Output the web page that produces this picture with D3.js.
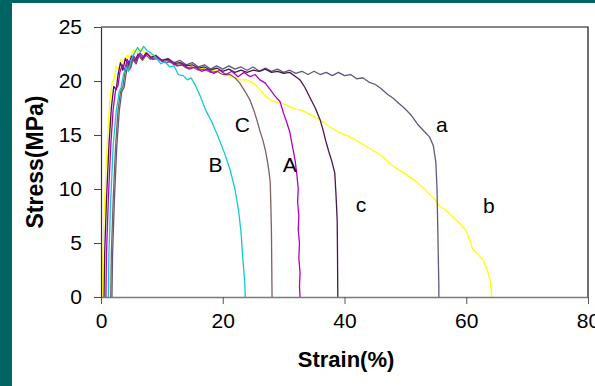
<!DOCTYPE html>
<html>
<head>
<meta charset="utf-8">
<script src="https://cdn.jsdelivr.net/npm/d3@7"></script>
<style>
  html, body { margin: 0; padding: 0; background: #006462; }
  svg { display: block; }
  text { font-family: Arial, "Liberation Sans", sans-serif; fill: #000; }
</style>
</head>
<body>
<div id="chart"></div>
<script>
(function () {
  'use strict';

  // stress-strain curves, [strain %, stress MPa]
  var curveYellow_b = [[0.2,0],[0.3,4],[0.6,9],[1.0,14],[1.4,17.8],[1.8,19.8],[2.2,20.3],[2.5,21.4],[2.9,21.0],[3.3,22.0],[3.8,21.6],[4.3,22.4],[4.8,22.1],[5.3,22.9],[5.9,22.6],[6.5,23.0],[7.2,22.6],[8,22.5],[9,22.2],[10,22.0],[11,21.9],[12,21.7],[13,21.6],[14,21.5],[15,21.3],[16,21.2],[17,21.1],[18,21.0],[19,21.0],[20,20.6],[21,20.5],[22,20.3],[23,20.1],[24,20.1],[25,19.8],[26,19.3],[27,18.6],[28,18.2],[29,18.0],[30,17.9],[31,17.6],[32,17.4],[33,17.3],[34,17.0],[35,16.7],[36,16.4],[37,16.0],[38,15.6],[39.3,15.2],[41,14.8],[42.5,14.3],[44,13.8],[45.8,13.2],[47,12.6],[48.3,12.0],[50,11.4],[51.5,10.8],[52.7,10.2],[54,9.5],[54.9,9.0],[55.5,8.5],[56.5,8.1],[57.8,7.4],[59,6.8],[60.1,6.0],[60.7,5.0],[61.1,4.4],[62,3.9],[62.8,3.4],[63.4,2.6],[63.9,1.6],[64.1,0.6],[64.2,0]];
  var curveSlate_a = [[1.8,0],[1.9,4],[2.2,9],[2.6,14],[3.0,17.2],[3.4,19.0],[3.8,19.4],[4.1,20.6],[4.5,21.8],[4.9,21.2],[5.3,22.2],[5.8,21.6],[6.3,22.5],[6.9,22.0],[7.5,22.6],[8.2,22.1],[9,22.4],[10,21.9],[11,22.1],[12,21.7],[13,21.9],[14,21.5],[15,21.7],[16,21.3],[17,21.5],[18,21.1],[19,21.4],[20,21.1],[21,21.4],[22,21.1],[23,21.3],[24,21.0],[25,21.3],[26,20.9],[27,21.2],[28,20.9],[29,21.1],[30,20.8],[31,21.0],[32,20.7],[33,20.9],[34,20.6],[35,20.9],[36,20.6],[37,20.8],[38,20.5],[39,20.8],[40,20.5],[41,20.6],[42,20.2],[43,20.3],[44,19.9],[45,19.7],[46,19.3],[47,18.8],[48,18.4],[49,17.9],[50,17.4],[51,16.8],[52,16.0],[53,15.4],[54,14.8],[54.6,14.0],[55.0,12.5],[55.2,10.0],[55.3,7.0],[55.4,4.0],[55.5,1.0],[55.5,0]];
  var curvePurple_c = [[0.5,0],[0.6,4],[0.9,9],[1.3,14],[1.7,17.5],[2.1,19.5],[2.5,19.2],[2.8,20.6],[3.2,21.7],[3.6,21.0],[4.0,22.1],[4.5,21.4],[5.0,22.3],[5.5,21.8],[6.1,22.5],[6.7,22.0],[7.4,22.6],[8.2,22.2],[9,22.3],[10,21.9],[11,22.0],[12,21.6],[13,21.7],[14,21.4],[15,21.5],[16,21.2],[17,21.3],[18,21.0],[19,21.2],[20,20.9],[21,21.1],[22,20.8],[23,21.0],[24,20.8],[25,21.0],[26,20.9],[27,21.1],[28,20.8],[29,20.9],[30,20.7],[31,20.8],[32,20.4],[32.7,20.1],[33.5,19.4],[34.3,18.5],[35.2,17.5],[36,16.4],[36.5,15.4],[36.9,14.5],[37.4,13.5],[37.9,12.6],[38.4,11.5],[38.6,9.5],[38.8,7.1],[38.85,4],[38.9,0]];
  var curveTaupe_C = [[1.6,0],[1.7,4],[2.0,9],[2.4,14],[2.8,17.3],[3.2,19.0],[3.6,19.5],[3.9,20.7],[4.3,21.6],[4.7,21.0],[5.2,22.1],[5.7,21.6],[6.2,22.4],[6.8,21.9],[7.4,22.4],[8.1,22.0],[9,22.2],[10,21.8],[11,21.9],[12,21.5],[13,21.6],[14,21.2],[15,21.3],[16,21.0],[17,21.1],[18,20.8],[19,20.9],[20,20.6],[21.2,20.6],[22,20.3],[22.8,19.8],[23.7,19.0],[24.5,18.2],[25.1,17.3],[25.6,16.4],[26.1,15.4],[26.6,14.5],[27.0,13.6],[27.3,12.7],[27.6,11.6],[27.8,10.6],[27.9,8.5],[28.0,6.0],[28.05,3.0],[28.1,0]];
  var curveMagenta_A = [[0.8,0],[0.9,4],[1.2,9],[1.6,14],[2.0,17.4],[2.4,19.2],[2.8,19.6],[3.1,20.8],[3.5,21.5],[3.9,21.0],[4.3,22.0],[4.8,21.5],[5.3,22.4],[5.8,21.9],[6.4,22.6],[7.0,22.2],[7.7,22.5],[8.5,22.0],[9.5,22.1],[10.5,21.7],[11.5,21.8],[12.5,21.4],[13.5,21.5],[14.5,21.1],[15.5,21.3],[16.5,20.9],[17.5,21.1],[18.5,20.7],[19.5,21.0],[20.5,20.6],[21.5,20.9],[22.5,20.4],[23.5,20.8],[24.5,20.4],[25.3,20.6],[26.1,20.1],[27,19.8],[27.8,19.2],[28.6,18.6],[29.4,18.1],[30.0,17.0],[30.5,16.2],[31.0,15.3],[31.5,13.8],[31.9,12.6],[32.2,11.2],[32.4,10.0],[32.3,8.8],[32.5,7.5],[32.4,6.2],[32.6,5.0],[32.5,3.6],[32.7,2.2],[32.6,1.0],[32.7,0]];
  var curveCyan_B = [[1.2,0],[1.3,4],[1.6,9],[2.0,14],[2.5,17.2],[3.0,19.0],[3.3,19.4],[3.7,20.6],[4.1,21.3],[4.5,20.9],[5.0,22.0],[5.5,22.6],[6.0,23.1],[6.5,22.7],[7.0,23.2],[7.6,22.8],[8.2,22.6],[9,22.2],[9.8,21.6],[10.5,21.8],[11.3,21.3],[12,21.4],[12.7,20.6],[13.5,20.5],[14.2,20.1],[14.8,20.3],[15.5,19.6],[16.3,18.6],[17.2,17.3],[18.2,16.2],[19.2,14.9],[20.3,13.3],[21.2,11.8],[22.0,10.0],[22.6,8.0],[23.0,6.0],[23.3,3.5],[23.6,1.5],[23.7,0]];

  var xTicks = [0, 20, 40, 60, 80];
  var yTicks = [0, 5, 10, 15, 20, 25];

  // curve labels: [text, strain, stress]
  var curveLabels = [['a', 56, 15.3], ['b', 63.7, 7.8], ['c', 42.7, 7.9], ['C', 23.2, 15.3], ['A', 31.0, 11.6], ['B', 18.8, 11.6]];

  var width = 595, height = 386;
  var left = 101, top = 27, right = 588, bottom = 297;

  var svg = d3.select('#chart').append('svg')
      .attr('width', width)
      .attr('height', height);

  svg.append('rect')
      .attr('x', 12).attr('y', 3)
      .attr('width', width - 12).attr('height', height - 3)
      .attr('fill', '#fff');

  var x = d3.scaleLinear().domain([0, 80]).range([left, right]);
  var y = d3.scaleLinear().domain([0, 25]).range([bottom, top]);

  // frame top / right
  svg.append('path')
      .attr('d', 'M' + left + ',' + top + 'H' + right + 'V' + bottom)
      .attr('fill', 'none')
      .attr('stroke', '#111')
      .attr('stroke-width', 1.2);

  var line = d3.line()
      .x(function (d) { return x(d[0]); })
      .y(function (d) { return y(d[1]); });

  var series = [
    {data: curveYellow_b, color: '#ffff00'},
    {data: curveSlate_a, color: '#5a5a7e'},
    {data: curvePurple_c, color: '#4a1848'},
    {data: curveTaupe_C, color: '#7e6060'},
    {data: curveMagenta_A, color: '#b000c4'},
    {data: curveCyan_B, color: '#14c8d2'}
  ];

  svg.selectAll('.curve')
      .data(series)
      .enter()
      .append('path')
      .attr('class', 'curve')
      .attr('d', function (d) { return line(d.data); })
      .attr('fill', 'none')
      .attr('stroke', function (d) { return d.color; })
      .attr('stroke-width', 1.3)
      .attr('stroke-linejoin', 'round');

  var xAxis = svg.append('g')
      .attr('transform', 'translate(0,' + bottom + ')')
      .call(d3.axisBottom(x).tickValues(xTicks).tickSize(7).tickPadding(9).tickSizeOuter(0));
  xAxis.select('.domain').attr('stroke', '#7a7a7a').attr('stroke-width', 1.5);
  xAxis.selectAll('.tick line').attr('stroke', '#555');
  xAxis.selectAll('.tick text')
      .attr('font-size', 21)
      .attr('font-family', 'Arial, "Liberation Sans", sans-serif')
      .attr('fill', '#111');

  var yAxis = svg.append('g')
      .attr('transform', 'translate(' + left + ',0)')
      .call(d3.axisLeft(y).tickValues(yTicks).tickSize(7).tickPadding(12).tickSizeOuter(0));
  yAxis.select('.domain').attr('stroke', '#333').attr('stroke-width', 1.2);
  yAxis.selectAll('.tick line').attr('stroke', '#444');
  yAxis.selectAll('.tick text')
      .attr('font-size', 21)
      .attr('font-family', 'Arial, "Liberation Sans", sans-serif')
      .attr('fill', '#111');

  svg.selectAll('.curve-label')
      .data(curveLabels)
      .enter()
      .append('text')
      .attr('class', 'curve-label')
      .attr('x', function (d) { return x(d[1]); })
      .attr('y', function (d) { return y(d[2]); })
      .attr('text-anchor', 'middle')
      .attr('font-size', 21)
      .text(function (d) { return d[0]; });

  svg.append('text')
      .attr('x', 346)
      .attr('y', 367)
      .attr('text-anchor', 'middle')
      .attr('font-size', 22)
      .attr('font-weight', 'bold')
      .text('Strain(%)');

  svg.append('text')
      .attr('transform', 'translate(43,162) rotate(-90)')
      .attr('text-anchor', 'middle')
      .attr('font-size', 23)
      .attr('font-weight', 'bold')
      .text('Stress(MPa)');
}());
</script>
</body>
</html>
